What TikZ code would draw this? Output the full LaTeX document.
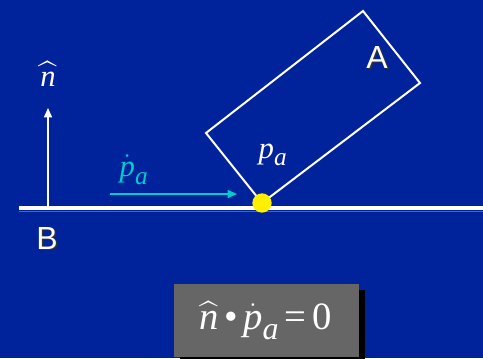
\documentclass[tikz,border=0pt]{standalone}
\usepackage{amsmath}
\usepackage{fontspec}
\setmainfont{Liberation Serif}
\newfontfamily\arialf{Liberation Sans}
\DeclareMathSizes{23}{23}{19}{15}
\DeclareMathSizes{29}{29}{24}{19}
\usetikzlibrary{arrows.meta}
\definecolor{bg}{RGB}{0,35,155}
\definecolor{tealc}{RGB}{0,204,204}
\definecolor{dotyellow}{RGB}{255,240,0}
\definecolor{boxgray}{RGB}{102,102,102}
\begin{document}
\begin{tikzpicture}[x=0.75pt,y=-0.75pt,
  sanslabel/.style={text=white,font=\arialf\fontsize{24}{28}\selectfont,inner sep=0pt},
  shadowlabel/.style={text=black!80,font=\arialf\fontsize{24}{28}\selectfont,inner sep=0pt},
  mathlabel/.style={text=white,font=\fontsize{23}{27}\selectfont,inner sep=0pt},
  vec/.style={line width=1.1pt,-{Triangle[length=7pt,width=6pt]}},
  body/.style={draw=white,line width=1.5pt,line join=miter}]
\fill[bg] (0,0) rectangle (483,358);
\useasboundingbox (0,0) rectangle (483,358);
% ground B
\coordinate (gl) at (19,208);
\coordinate (gr) at (483,208);
\draw[line width=1pt,black!60] ([yshift=-2.6pt]gl) -- ([yshift=-2.6pt]gr);
\draw[line width=3pt,white] (gl) -- (gr);
% body A
\coordinate (ct) at (363,11);
\coordinate (cr) at (420,83);
\coordinate (cb) at (262,203);
\coordinate (cl) at (206,133);
\draw[body] (ct) -- (cr) -- (cb) -- (cl) -- cycle;
\node[circle,fill=dotyellow,minimum size=14.5pt,inner sep=0pt] (contact) at (262,203) {};
% normal
\coordinate (nbase) at (48,208);
\coordinate (ntip) at (48,108);
\draw[vec,white] (nbase) -- (ntip);
\node[mathlabel] (nlab) at (48,74) {$\widehat{\text{\itshape n}}$};
% velocity
\coordinate (vs) at (110,194);
\coordinate (ve) at (237,194);
\draw[vec,tealc] (vs) -- (ve);
\node[mathlabel,text=tealc] (vlab) at (134,170) {$\dot{\text{\itshape p}}_{\text{\itshape a}}$};
\node[mathlabel] (plab) at (273,155) {$\text{\itshape p}_{\text{\itshape a}}$};
% labels
\node[shadowlabel] at (378.5,58.5) {A};
\node[sanslabel] (Alab) at (377,57) {A};
\node[shadowlabel] at (48.5,239.5) {B};
\node[sanslabel] (Blab) at (47,238) {B};
% equation box
\fill[black] (180,290) rectangle (365,362);
\node[fill=boxgray,minimum width=138.75pt,minimum height=54.75pt,inner sep=0pt,anchor=north west] (eqbox) at (174,284) {};
\node[text=white,font=\fontsize{29}{33}\selectfont,inner sep=0pt] (eq) at ([xshift=-1pt]eqbox.center)
  {$\widehat{\text{\itshape n}}\,\text{•}\,\dot{\text{\itshape p}}_{\text{\itshape a}}\,\text{=}\,\text{0}$};
\end{tikzpicture}
\end{document}
